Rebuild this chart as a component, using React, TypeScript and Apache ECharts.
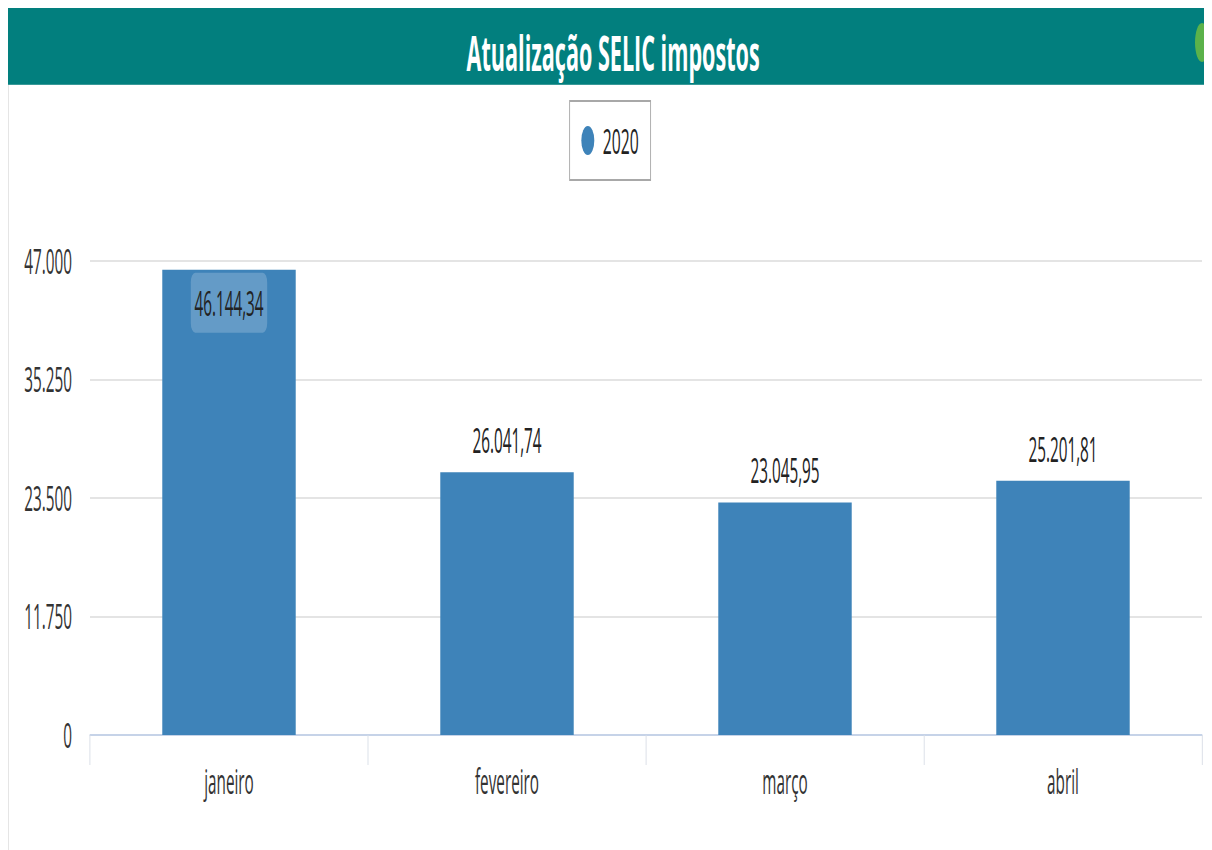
import React, { useEffect, useRef } from "react";
import * as echarts from "echarts";

const categories = ["janeiro", "fevereiro", "março", "abril"];
const values2020 = [46144.34, 26041.74, 23045.95, 25201.81];
const yTicks = [0, 11750, 23500, 35250, 47000];
const seriesName = "2020";
const titleText = "Atualização SELIC impostos";

const FONT = "'Open Sans', 'Noto Sans', sans-serif";
// the reference is horizontally condensed: draw wide, then squeeze
const S = 0.45;
const VIEW_W = 1204;
const VIEW_H = 842;
const W = Math.round(VIEW_W / S);
const sx = (x: number) => x / S;

const fmtBR = (v: number, dec: number) =>
  v.toLocaleString("pt-BR", { minimumFractionDigits: dec, maximumFractionDigits: dec });

export default function App() {
  const ref = useRef<HTMLDivElement>(null);
  useEffect(() => {
    if (!ref.current) return;
    const chart = echarts.init(ref.current, null, { renderer: "svg" });
    chart.setOption({
      animation: false,
      backgroundColor: "#ffffff",
      textStyle: { fontFamily: FONT },
      graphic: [
        { type: "line", shape: { x1: 1, y1: 0, x2: 1, y2: VIEW_H }, style: { stroke: "#e2e2e2", lineWidth: 2 } },
        { type: "rect", shape: { x: 0, y: 0, width: W, height: 77 }, style: { fill: "#027f7e" } },
        { type: "line", shape: { x1: 0, y1: 76.5, x2: W, y2: 76.5 }, style: { stroke: "#4fa3a2", lineWidth: 1 } },
        { type: "ellipse", shape: { cx: sx(1194), cy: 34.5, rx: sx(7), ry: 19.5 }, style: { fill: "#5bb24a" } },
        {
          type: "text",
          x: W / 2 + sx(3),
          y: 44,
          style: {
            text: titleText,
            fill: "#ffffff",
            font: `bold 48px ${FONT}`,
            align: "center",
            verticalAlign: "middle",
          },
        },
      ],
      legend: {
        left: "center",
        top: 93,
        data: [seriesName],
        icon: "path://M0,50 A50,50 0 1,1 100,50 A50,50 0 1,1 0,50 Z",
        itemWidth: sx(13),
        itemHeight: 38,
        itemGap: 10,
        padding: [22, 26],
        borderColor: "#a8a8a8",
        borderWidth: 2,
        backgroundColor: "#ffffff",
        textStyle: { fontFamily: FONT, fontSize: 35, color: "#222", padding: [0, 0, 0, 14] },
      },
      grid: { left: sx(82), right: W - sx(1194), top: 253, bottom: 115 },
      xAxis: {
        type: "category",
        data: categories,
        axisLine: { lineStyle: { color: "#c6d3e8", width: 2 } },
        axisTick: { show: true, length: 30, lineStyle: { color: "#d8dde6", width: 2 } },
        axisLabel: { fontFamily: FONT, fontSize: 34, color: "#333", margin: 29 },
      },
      yAxis: {
        type: "value",
        min: yTicks[0],
        max: yTicks[yTicks.length - 1],
        interval: yTicks[1] - yTicks[0],
        axisLine: { show: false },
        axisTick: { show: false },
        splitLine: { lineStyle: { color: "#e4e4e4", width: 2 } },
        axisLabel: {
          fontFamily: FONT,
          fontSize: 34,
          color: "#333",
          margin: sx(18),
          formatter: (v: number) => fmtBR(v, 0),
        },
      },
      series: [
        {
          name: seriesName,
          type: "bar",
          barWidth: "48%",
          itemStyle: { color: "#3e83b9" },
          data: values2020.map((v, i) =>
            i === 0
              ? {
                  value: v,
                  label: {
                    position: "insideTop",
                    distance: 3,
                    backgroundColor: "rgba(255,255,255,0.2)",
                    borderRadius: 10,
                    padding: [13, 8, 13, 8],
                  },
                }
              : v
          ),
          label: {
            show: true,
            position: "top",
            distance: 15,
            fontFamily: FONT,
            fontSize: 34,
            color: "#222",
            formatter: (p: any) => fmtBR(p.value, 2),
          },
        },
      ],
    });
    return () => chart.dispose();
  }, []);
  return (
    <div style={{ width: VIEW_W, height: VIEW_H, overflow: "hidden", position: "relative" }}>
      <div
        ref={ref}
        style={{ width: W, height: VIEW_H, transform: `scaleX(${S})`, transformOrigin: "0 0" }}
      />
    </div>
  );
}
